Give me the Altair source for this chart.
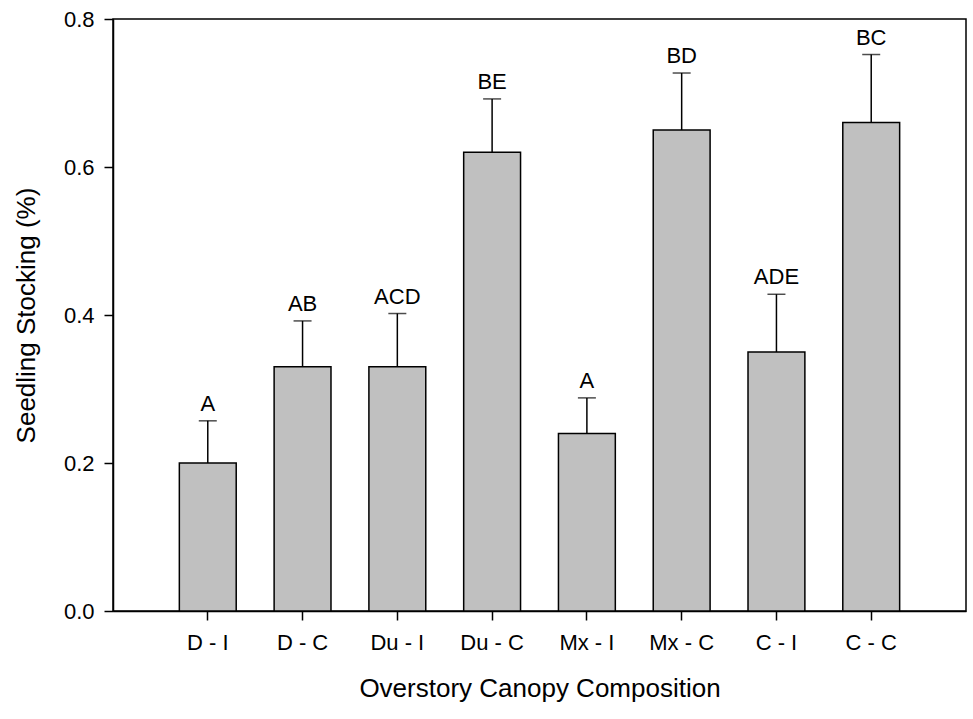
import altair as alt
import pandas as pd

categories = ["D - I", "D - C", "Du - I", "Du - C", "Mx - I", "Mx - C", "C - I", "C - C"]
values = [0.20, 0.33, 0.33, 0.62, 0.24, 0.65, 0.35, 0.66]
errors = [0.057, 0.062, 0.072, 0.072, 0.048, 0.077, 0.078, 0.092]
letters = ["A", "AB", "ACD", "BE", "A", "BD", "ADE", "BC"]

df = pd.DataFrame({"cat": categories, "value": values, "err": errors, "label": letters})

FONT = "Arial, Liberation Sans"

x = alt.X("cat:N", sort=categories, title="Overstory Canopy Composition",
          scale=alt.Scale(paddingInner=0.4, paddingOuter=0.7),
          axis=alt.Axis(labelAngle=0, labelPadding=12, titlePadding=22))
y_scale = alt.Scale(domain=[0, 0.8], nice=False)

base = alt.Chart(df).transform_calculate(top="datum.value + datum.err")

bars = base.mark_bar(color="#C0C0C0", stroke="black", strokeWidth=1.5).encode(
    x=x,
    y=alt.Y("value:Q", scale=y_scale, title="Seedling Stocking (%)",
            axis=alt.Axis(values=[0, 0.2, 0.4, 0.6, 0.8], format=".1f",
                          labelPadding=10, titlePadding=24)),
)

rules = base.mark_rule(color="black", strokeWidth=1.5).encode(
    x=alt.X("cat:N", sort=categories),
    y=alt.Y("value:Q"),
    y2=alt.Y2("top:Q"),
)

caps = base.mark_tick(color="black", orient="horizontal", size=18, thickness=1.5).encode(
    x=alt.X("cat:N", sort=categories),
    y=alt.Y("top:Q"),
)

labels = base.mark_text(font=FONT, fontSize=22, color="black", baseline="alphabetic", dy=-10).encode(
    x=alt.X("cat:N", sort=categories),
    y=alt.Y("top:Q"),
    text="label:N",
)

chart = alt.layer(bars, rules, caps, labels).properties(
    width=853, height=592,
    background="white",
    autosize=alt.AutoSizeParams(type="none"),
    padding={"left": 113, "top": 19, "right": 7, "bottom": 108},
).configure_view(
    stroke="black", strokeWidth=1.5
).configure_axis(
    grid=False,
    domainColor="black", domainWidth=1.5,
    tickColor="black", tickWidth=1.5, tickSize=9,
    labelColor="black", titleColor="black",
    labelFont=FONT, titleFont=FONT,
    labelFontSize=22, titleFontSize=26, titleFontWeight="normal",
)

chart.save("out.html", embed_options={"renderer": "svg", "actions": False})
